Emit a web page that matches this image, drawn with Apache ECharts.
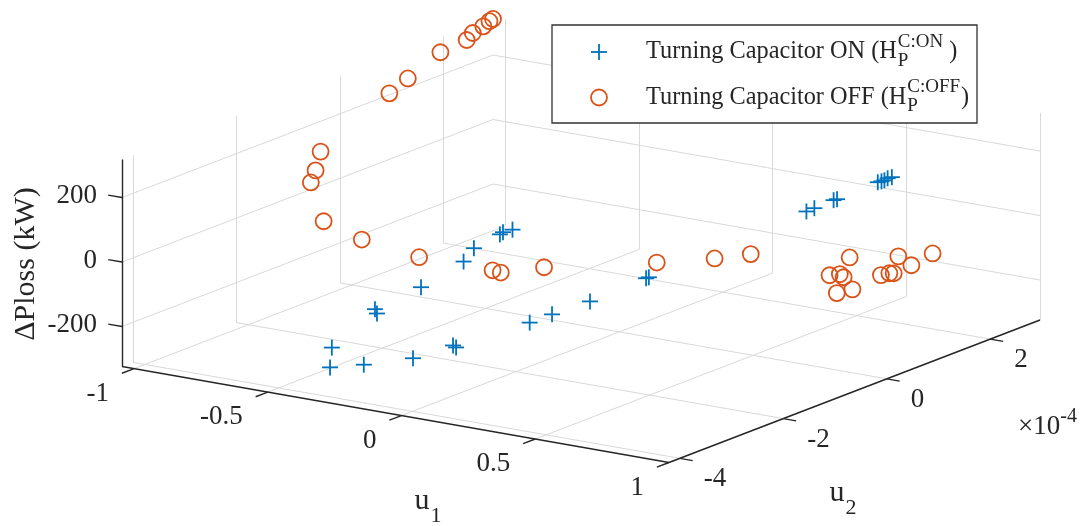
<!DOCTYPE html>
<html><head><meta charset="utf-8">
<script src="https://cdn.jsdelivr.net/npm/echarts/dist/echarts.min.js"></script>
<style>html,body{margin:0;padding:0;background:#fff}#c{width:1086px;height:526px}</style>
</head><body><div id="c"></div>
<script>
// ---------------- data (u2 in units of 1e-4, ΔPloss in kW) ----------------
const onU1   = [-0.391,-0.452,-0.288,-0.432,-0.411,-0.166,-0.370,-0.084,-0.063,-0.329,-0.329,-0.288,-0.288,-0.268,0.100,0.141,0.223,0.305,0.325,0.591,0.611,0.652,0.663,0.734,0.744,0.755,0.765,0.775];
const onU2   = [-3.57,-3.22,-3.45,-2.49,-2.56,-3.13,-1.92,-2.78,-2.83,-1.31,-1.11,-0.82,-0.76,-0.68,-2.25,-2.03,-1.72,-1.06,-1.11,0.56,0.61,0.77,0.78,1.20,1.22,1.22,1.23,1.26];
const onLoss = [-271,-240,-255,-163,-169,-237,-121,-207,-207,-73,-44,-13,-10,-4,-142,-124,-91,-48,-39,101,111,132,136,173,176,181,188,191];

const offU1   = [-0.840,-0.861,-0.881,-0.800,-0.636,-0.943,-0.963,-0.994,-1.004,-1.018,-1.029,-1.037,-1.045,-0.472,-0.207,-0.186,-0.063,0.223,0.387,0.468,0.693,0.714,0.734,0.693,0.734,0.714,0.796,0.816,0.836,0.836,0.877,0.939];
const offU2   = [-1.62,-1.42,-1.22,-1.58,-1.69,0.43,0.89,1.68,2.24,2.43,2.69,2.85,2.96,-1.43,-1.38,-1.33,-1.13,-0.43,-0.16,0.12,0.48,0.57,0.54,0.62,0.71,0.76,0.94,1.00,0.98,1.07,1.11,1.20];
const offLoss = [117,139,182,0,-26,252,267,295,297,305,308,313,312,-73,-78,-85,-63,-50,-30,-22,-77,-76,-81,-141,-129,-36,-90,-85,-81,-34,-58,-18];

const U1_LIM = [-1.045, 1];
const U2_LIM = [-4.21, 2.96];
const Z_LIM  = [-324, 318];
const u1Ticks = [-1, -0.5, 0, 0.5, 1];
const u1TickLabels = ['-1', '-0.5', '0', '0.5', '1'];
const u2Ticks = [-4, -2, 0, 2];
const u2TickLabels = ['-4', '-2', '0', '2'];
const zTicks = [-200, 0, 200];
const zTickLabels = ['-200', '0', '200'];
const seriesNames = ['Turning Capacitor ON (H', 'Turning Capacitor OFF (H'];
const seriesSup = ['C:ON', 'C:OFF'];

// ---------------- view geometry (orthographic 3D box) ----------------
const ORIGIN = [122, 366.5];      // corner (u1 min, u2 min, z min)
const E1 = [547, 96];             // full u1 extent on screen
const E2 = [371, -142.5];         // full u2 extent
const E3 = [0, -207];             // full z extent
const BLUE = '#0072BD', ORANGE = '#D95319', AXIS = '#262626', GRID = '#d9d9d9';
const FONT = '"Liberation Serif", "Times New Roman", serif';
const TICKF = 27, EXPF = 20, LEGF = 24.3, LSUPF = 19, LABF = 30, SUBF = 22;

function proj(u1, u2, z) {
  const a = (u1 - U1_LIM[0]) / (U1_LIM[1] - U1_LIM[0]);
  const b = (u2 - U2_LIM[0]) / (U2_LIM[1] - U2_LIM[0]);
  const c = (z - Z_LIM[0]) / (Z_LIM[1] - Z_LIM[0]);
  return [ORIGIN[0] + a * E1[0] + b * E2[0] + c * E3[0],
          ORIGIN[1] + a * E1[1] + b * E2[1] + c * E3[1]];
}
function unit(v) { const l = Math.hypot(v[0], v[1]); return [v[0] / l, v[1] / l]; }
const d1 = unit(E1), d2 = unit(E2);

const [a0, a1] = U1_LIM, [b0, b1] = U2_LIM, [c0, c1] = Z_LIM;
function seg(p, q) { return { coords: [proj(...p), proj(...q)] }; }

const gridSegs = [];
u2Ticks.forEach(t => { gridSegs.push(seg([a0, t, c0], [a0, t, c1])); gridSegs.push(seg([a0, t, c0], [a1, t, c0])); });
u1Ticks.forEach(t => { gridSegs.push(seg([t, b1, c0], [t, b1, c1])); gridSegs.push(seg([t, b0, c0], [t, b1, c0])); });
zTicks.forEach(t => { gridSegs.push(seg([a0, b0, t], [a0, b1, t])); gridSegs.push(seg([a0, b1, t], [a1, b1, t])); });

const axisSegs = [seg([a0, b0, c0], [a1, b0, c0]), seg([a1, b0, c0], [a1, b1, c0]), seg([a0, b0, c0], [a0, b0, c1])];

const TL = 13;
const tickSegs = [];
u1Ticks.forEach(t => { const p = proj(t, b0, c0); tickSegs.push({ coords: [p, [p[0] - TL * d2[0], p[1] - TL * d2[1]]] }); });
u2Ticks.forEach(t => { const p = proj(a1, t, c0); tickSegs.push({ coords: [p, [p[0] + TL * d1[0], p[1] + TL * d1[1]]] }); });
zTicks.forEach(t => { const p = proj(a0, b0, t); tickSegs.push({ coords: [p, [p[0] - 14 * d1[0], p[1] - 14 * d1[1]]] }); });

const onPts = onU1.map((u, i) => proj(u, onU2[i], onLoss[i]));
const offPts = offU1.map((u, i) => proj(u, offU2[i], offLoss[i]));

const chart = echarts.init(document.getElementById('c'), null, { renderer: 'canvas' });

const PH = 8, PW = 1.8, CR = 8, CW = 1.8;
function plusItem(p) {
  return { type: 'group', children: [
    { type: 'line', shape: { x1: p[0] - PH, y1: p[1], x2: p[0] + PH, y2: p[1] }, style: { stroke: BLUE, lineWidth: PW } },
    { type: 'line', shape: { x1: p[0], y1: p[1] - PH, x2: p[0], y2: p[1] + PH }, style: { stroke: BLUE, lineWidth: PW } }
  ] };
}

chart.setOption({
  animation: false,
  backgroundColor: '#fff',
  grid: { left: 0, top: 0, width: 1086, height: 526, show: false },
  xAxis: { type: 'value', min: 0, max: 1086, show: false },
  yAxis: { type: 'value', min: 0, max: 526, inverse: true, show: false },
  series: [
    { type: 'lines', coordinateSystem: 'cartesian2d', silent: true, z: 1, data: gridSegs,
      lineStyle: { color: GRID, width: 1, opacity: 1 } },
    { type: 'lines', coordinateSystem: 'cartesian2d', silent: true, z: 2, data: axisSegs,
      lineStyle: { color: AXIS, width: 1.4, opacity: 1 } },
    { type: 'lines', coordinateSystem: 'cartesian2d', silent: true, z: 2, data: tickSegs,
      lineStyle: { color: AXIS, width: 1.4, opacity: 1 } },
    { type: 'custom', name: 'ON', coordinateSystem: 'cartesian2d', silent: true, z: 3, data: onPts,
      encode: { x: 0, y: 1 },
      renderItem: (params, api) => plusItem(api.coord([api.value(0), api.value(1)])) },
    { type: 'custom', name: 'OFF', coordinateSystem: 'cartesian2d', silent: true, z: 3, data: offPts,
      encode: { x: 0, y: 1 },
      renderItem: (params, api) => {
        const p = api.coord([api.value(0), api.value(1)]);
        return { type: 'circle', shape: { cx: p[0], cy: p[1], r: CR }, style: { fill: 'none', stroke: ORANGE, lineWidth: CW } };
      } }
  ]
});

// ---------------- texts, legend ----------------
const px = v => chart.convertToPixel({ gridIndex: 0 }, v);
const ctx = document.createElement('canvas').getContext('2d');
function tw(text, size) { ctx.font = size + 'px ' + FONT; return ctx.measureText(text).width; }
function txt(x, y, text, size, align, valign, extra) {
  return Object.assign({ type: 'text', x, y, silent: true, z: 100,
    style: { text, font: size + 'px ' + FONT, fill: AXIS, align, verticalAlign: valign,
             textAlign: align, textVerticalAlign: valign } }, extra || {});
}
const G = [];
zTicks.forEach((t, i) => { const p = px(proj(a0, b0, t)); G.push(txt(p[0] - 25, p[1] - 1.5, zTickLabels[i], TICKF, 'right', 'middle')); });
u1Ticks.forEach((t, i) => { const p = px(proj(t, b0, c0)); G.push(txt(p[0] - 25, p[1] + 25, u1TickLabels[i], TICKF, 'right', 'middle')); });
u2Ticks.forEach((t, i) => { const p = px(proj(a1, t, c0)); G.push(txt(p[0] + 24, p[1] + 21, u2TickLabels[i], TICKF, 'left', 'middle')); });

// exponent ×10^-4 near end of u2 axis
const pe = px(proj(a1, b1, c0));
G.push(txt(pe[0] - 22, pe[1] + 107, '×10', TICKF, 'left', 'middle'));
G.push(txt(pe[0] - 22 + tw('×10', TICKF), pe[1] + 97, '-4', EXPF, 'left', 'middle'));

// axis titles
const pm1 = px(proj((a0 + a1) / 2, b0, c0));
G.push(txt(pm1[0] + 19, pm1[1] + 87, 'u', LABF, 'left', 'middle'));
G.push(txt(pm1[0] + 19 + tw('u', LABF) + 1, pm1[1] + 102, '1', SUBF, 'left', 'middle'));
const pm2 = px(proj(a1, (b0 + b1) / 2, c0));
G.push(txt(pm2[0] - 25, pm2[1] + 102, 'u', LABF, 'left', 'middle'));
G.push(txt(pm2[0] - 25 + tw('u', LABF) + 1, pm2[1] + 117, '2', SUBF, 'left', 'middle'));
const pmz = px(proj(a0, b0, (c0 + c1) / 2));
G.push(txt(pmz[0] - 96, pmz[1] + 1, 'ΔPloss (kW)', LABF, 'center', 'middle', { rotation: Math.PI / 2 }));

// legend
const LG = { x: 552, y: 25, w: 425, h: 98 };
G.push({ type: 'rect', silent: true, z: 90, shape: { x: LG.x, y: LG.y, width: LG.w, height: LG.h },
  style: { fill: '#fff', stroke: '#333', lineWidth: 1.3 } });
const rowY = [LG.y + 27, LG.y + 72.5];
const symX = LG.x + 47, textX = LG.x + 94;
G.push({ type: 'line', silent: true, z: 101, shape: { x1: symX - PH, y1: rowY[0], x2: symX + PH, y2: rowY[0] }, style: { stroke: BLUE, lineWidth: PW } });
G.push({ type: 'line', silent: true, z: 101, shape: { x1: symX, y1: rowY[0] - PH, x2: symX, y2: rowY[0] + PH }, style: { stroke: BLUE, lineWidth: PW } });
G.push({ type: 'circle', silent: true, z: 101, shape: { cx: symX, cy: rowY[1], r: CR }, style: { fill: 'none', stroke: ORANGE, lineWidth: CW } });
seriesNames.forEach((name, i) => {
  const y = rowY[i];
  G.push(txt(textX, y, name, LEGF, 'left', 'middle'));
  const xs = textX + tw(name, LEGF) + 1;
  G.push(txt(xs, y - 10, seriesSup[i], LSUPF, 'left', 'middle'));
  G.push(txt(xs, y + 9, 'P', LSUPF, 'left', 'middle'));
  const closeX = xs + tw(seriesSup[i], LSUPF) + (i === 0 ? 6 : 1);
  G.push(txt(closeX, y, ')', LEGF, 'left', 'middle'));
});

chart.setOption({ graphic: { elements: G } });
</script>
</body></html>
